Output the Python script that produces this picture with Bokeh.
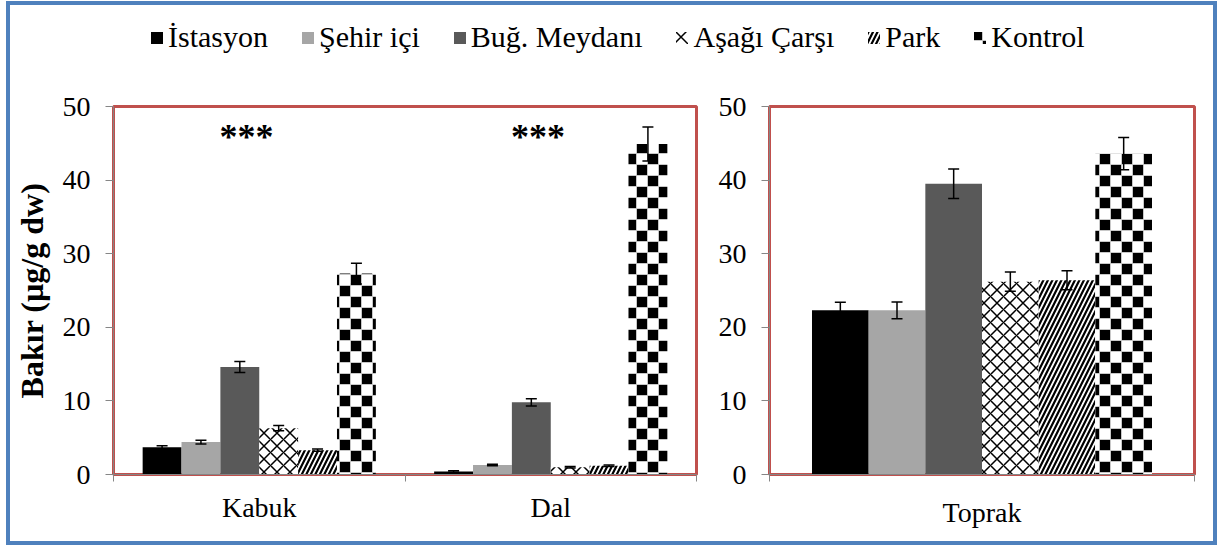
import zlib
import struct
import base64

from bokeh.plotting import figure
from bokeh.models import (ColumnDataSource, Whisker, TeeHead, Legend, LegendItem,
                          Range1d, LinearAxis, FixedTicker, ImageURLTexture)
from bokeh.layouts import column, row
from bokeh.core.properties import value
from bokeh.embed import file_html
from bokeh.resources import INLINE

# ---------------- data ----------------
series = ["İstasyon", "Şehir içi", "Buğ. Meydanı", "Aşağı Çarşı", "Park", "Kontrol"]
left_cats = ["Kabuk", "Dal"]
right_cats = ["Toprak"]

istasyon = [3.7, 0.4, 22.3]
sehir_ici = [4.4, 1.3, 22.3]
bug_meydani = [14.6, 9.8, 39.5]
asagi_carsi = [6.3, 1.0, 26.2]
park = [3.3, 1.2, 26.4]
kontrol = [27.3, 44.9, 43.6]

istasyon_err = [0.2, 0.1, 1.1]
sehir_ici_err = [0.25, 0.1, 1.15]
bug_meydani_err = [0.75, 0.5, 2.0]
asagi_carsi_err = [0.35, 0.1, 1.3]
park_err = [0.15, 0.1, 1.3]
kontrol_err = [1.4, 2.3, 2.2]

y_ticks = [0, 10, 20, 30, 40, 50]
star_labels = ["***", "***"]
y_label = "Bakır (µg/g dw)"

values = [istasyon, sehir_ici, bug_meydani, asagi_carsi, park, kontrol]
errors = [istasyon_err, sehir_ici_err, bug_meydani_err, asagi_carsi_err, park_err, kontrol_err]

# ---------------- styles ----------------
FONT = "Liberation Serif"
AXIS_GRAY = "#868686"
RED = "#C0504D"
BLUE = "#4F81BD"


def checker_png_url(cell=11, square=10):
    """Small grayscale PNG tile of a checkerboard, as a data URL (fill texture)."""
    size = 2 * cell
    raw = bytearray()
    for y in range(size):
        raw.append(0)
        for x in range(size):
            inside = (x % cell) < square and (y % cell) < square
            dark = ((x // cell) + (y // cell)) % 2 == 0
            if inside and dark:
                raw.append(0)
            elif inside:
                raw.append(255)
            else:
                raw.append(200)
    def chunk(kind, data):
        c = kind + data
        return struct.pack(">I", len(data)) + c + struct.pack(">I", zlib.crc32(c) & 0xffffffff)
    png = (b"\x89PNG\r\n\x1a\n"
           + chunk(b"IHDR", struct.pack(">IIBBBBB", size, size, 8, 0, 0, 0, 0))
           + chunk(b"IDAT", zlib.compress(bytes(raw), 9))
           + chunk(b"IEND", b""))
    return "data:image/png;base64," + base64.b64encode(png).decode("ascii")


checker = ImageURLTexture(url=checker_png_url(), repetition="repeat")

styles = [
    dict(fill_color="#000000"),
    dict(fill_color="#A6A6A6"),
    dict(fill_color="#595959"),
    dict(fill_color="white", hatch_pattern="diagonal_cross", hatch_color="black",
         hatch_scale=13, hatch_weight=1.5),
    dict(fill_color="white", hatch_pattern="right_diagonal_line", hatch_color="black",
         hatch_scale=9, hatch_weight=2.2),
    dict(fill_color="white", hatch_pattern=value("checker"), hatch_extra={"checker": checker},
         hatch_color="black", hatch_scale=22),
]

n = len(series)
group = 0.8
bw = group / n
offsets = [-group / 2 + bw * (i + 0.5) for i in range(n)]
STAR_Y = 45.8
STAR_DX = -0.044


def make_panel(cats, sl, width, height, mbl, mbr, mbt, mbb, label_standoff, ylab=None, stars=None):
    nc = len(cats)
    centers = [i + 0.5 for i in range(nc)]
    p = figure(x_range=Range1d(0, nc), y_range=Range1d(0, 50),
               width=width, height=height, output_backend="svg", toolbar_location=None,
               x_axis_location=None, min_border_left=mbl, min_border_right=mbr,
               min_border_top=mbt, min_border_bottom=mbb)
    p.background_fill_color = "white"
    p.border_fill_color = "white"
    p.xgrid.visible = False
    p.ygrid.visible = False
    p.outline_line_color = RED
    p.outline_line_width = 3

    for i in range(n):
        v = values[i][sl]
        e = errors[i][sl]
        src = ColumnDataSource(dict(
            x=[c + offsets[i] for c in centers], v=v,
            lo=[a - b for a, b in zip(v, e)], hi=[a + b for a, b in zip(v, e)]))
        p.vbar(x="x", top="v", width=bw, bottom=0, source=src, line_color=None, **styles[i])
        w = Whisker(base="x", upper="hi", lower="lo",
                    source=src, line_color="black", line_width=1.5, level="annotation",
                    upper_head=TeeHead(size=11, line_width=1.5, line_color="black"),
                    lower_head=TeeHead(size=11, line_width=1.5, line_color="black"))
        p.add_layout(w)

    if stars is not None:
        ssrc = ColumnDataSource(dict(x=[c + STAR_DX for c in centers], t=stars, y=[STAR_Y] * nc))
        p.text(x="x", y="y", text="t", source=ssrc,
               text_font=value(FONT), text_font_size="36px", text_font_style="bold",
               text_align="center", text_baseline="middle", text_color="black")

    # y axis
    ya = p.yaxis[0]
    ya.ticker = FixedTicker(ticks=y_ticks)
    ya.major_tick_out = 8
    ya.major_tick_in = 0
    ya.minor_tick_line_color = None
    ya.axis_line_color = AXIS_GRAY
    ya.major_tick_line_color = AXIS_GRAY
    ya.major_label_text_font = FONT
    ya.major_label_text_font_size = "28px"
    ya.major_label_text_color = "black"
    ya.major_label_standoff = 15
    if ylab:
        ya.axis_label = ylab
        ya.axis_label_text_font = FONT
        ya.axis_label_text_font_size = "32px"
        ya.axis_label_text_font_style = "bold"
        ya.axis_label_text_color = "black"
        ya.axis_label_standoff = 10

    # x axis: labels at category centres, small ticks at category boundaries
    cat_axis = LinearAxis(ticker=FixedTicker(ticks=centers, minor_ticks=list(range(nc + 1))),
                          major_label_overrides={c: name for c, name in zip(centers, cats)},
                          major_tick_line_color=None, major_tick_in=0, major_tick_out=7,
                          minor_tick_line_color=AXIS_GRAY, minor_tick_in=0, minor_tick_out=7,
                          axis_line_color=AXIS_GRAY,
                          major_label_text_font=FONT, major_label_text_font_size="28px",
                          major_label_text_color="black", major_label_standoff=label_standoff)
    p.add_layout(cat_axis, "below")
    return p


left = make_panel(left_cats, slice(0, 2), 694, 453, 102, 8, 18, 67, 10, ylab=y_label, stars=star_labels)
right = make_panel(right_cats, slice(2, 3), 509, 453, 65, 19, 18, 67, 15)

# ---------------- legend ----------------
lf = figure(width=1203, height=83, output_backend="svg", toolbar_location=None,
            x_range=Range1d(0, 1), y_range=Range1d(0, 1), min_border=0,
            x_axis_location=None, y_axis_location=None)
lf.xgrid.visible = False
lf.ygrid.visible = False
lf.outline_line_color = None
lf.background_fill_color = "white"
lf.border_fill_color = "white"
items = []
for i in range(n):
    r = lf.vbar(x=[5], top=[1], width=0.1, line_color=None, **styles[i])
    items.append(LegendItem(label=series[i], renderers=[r]))
legend = Legend(items=items, orientation="horizontal", location=(139, 34),
                label_text_font=FONT, label_text_font_size="30px", label_text_color="black",
                glyph_width=15, glyph_height=15, label_standoff=4, spacing=32,
                padding=0, margin=0, border_line_color=None, background_fill_alpha=0)
lf.add_layout(legend, "center")

layout = column(lf, row(left, right),
                styles={"border": f"4px solid {BLUE}", "background": "white",
                        "margin-left": "6px", "margin-top": "1px"})

open("out.html", "w").write(file_html(layout, INLINE))
